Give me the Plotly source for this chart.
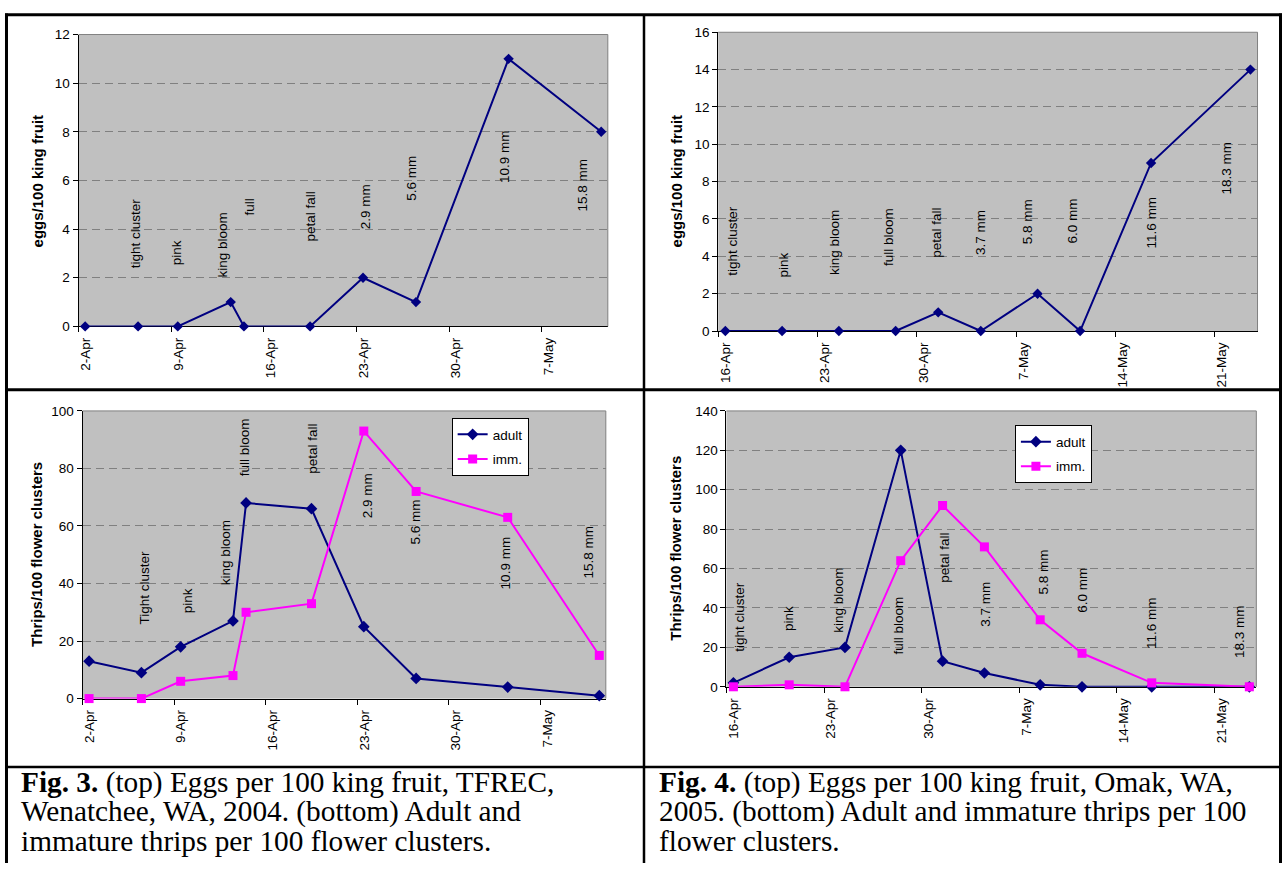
import plotly.graph_objects as go

W, H = 1282, 871

# ---------------- Fig. 3 (TFREC, Wenatchee, 2004) ----------------
f3_dates = ["2004-04-02", "2004-04-06", "2004-04-09", "2004-04-13", "2004-04-14",
            "2004-04-19", "2004-04-23", "2004-04-27", "2004-05-04", "2004-05-11"]
f3_eggs = [0, 0, 0, 1, 0, 0, 2, 1, 11, 8]
f3_adult = [13, 9, 18, 27, 68, 66, 25, 7, 4, 1]
f3_imm = [0, 0, 6, 8, 30, 33, 93, 72, 63, 15]

f3_top_labels = ["tight cluster", "pink", "king bloom", "full", "petal fall",
                 "2.9 mm", "5.6 mm", "10.9 mm", "15.8 mm"]
f3_top_label_x = ["2004-04-06 08:00", "2004-04-09 09:00", "2004-04-12 21:30",
                  "2004-04-14 22:00", "2004-04-19 13:00", "2004-04-23 17:00",
                  "2004-04-27 02:30", "2004-05-04 05:00", "2004-05-10 02:30"]
f3_top_label_y = [2.30, 2.42, 1.94, 4.48, 3.39, 3.92, 5.09, 5.82, 4.65]

f3_bot_labels = ["Tight cluster", "pink", "king bloom", "full bloom", "petal fall",
                 "2.9 mm", "5.6 mm", "10.9 mm", "15.8 mm"]
f3_bot_label_x = ["2004-04-06 17:20", "2004-04-09 23:45", "2004-04-12 22:50",
                  "2004-04-14 10:50", "2004-04-19 14:00", "2004-04-23 18:40",
                  "2004-04-27 10:00", "2004-05-04 08:40", "2004-05-10 16:20"]
f3_bot_label_y = [25.2, 28.8, 38.8, 76.7, 77.3, 62.0, 52.7, 37.4, 41.1]

# ---------------- Fig. 4 (Omak, 2005) ----------------
f4_dates = ["2005-04-16", "2005-04-20", "2005-04-24", "2005-04-28", "2005-05-01",
            "2005-05-04", "2005-05-08", "2005-05-11", "2005-05-16", "2005-05-23"]
f4_eggs = [0, 0, 0, 0, 1, 0, 2, 0, 9, 14]
f4_adult = [2, 15, 20, 120, 13, 7, 1, 0, 0, 0]
f4_imm = [0, 1, 0, 64, 92, 71, 34, 17, 2, 0]

f4_labels = ["tight cluster", "pink", "king bloom", "full bloom", "petal fall",
             "3.7 mm", "5.8 mm", "6.0 mm", "11.6 mm", "18.3 mm"]
f4_top_label_x = ["2005-04-17 00:15", "2005-04-20 14:40", "2005-04-24 04:20",
                  "2005-04-28 00:00", "2005-05-01 08:40", "2005-05-04 10:30",
                  "2005-05-07 18:00", "2005-05-10 22:20", "2005-05-16 13:00",
                  "2005-05-21 19:10"]
f4_top_label_y = [2.83, 2.77, 2.88, 3.35, 3.83, 3.98, 4.56, 4.56, 4.30, 7.19]
f4_bot_label_x = ["2005-04-16 23:10", "2005-04-20 11:00", "2005-04-24 01:30",
                  "2005-04-28 08:40", "2005-05-01 14:00", "2005-05-04 14:30",
                  "2005-05-08 16:50", "2005-05-11 13:00", "2005-05-16 11:15",
                  "2005-05-22 18:15"]
f4_bot_label_y = [16.7, 27.4, 26.6, 15.3, 51.6, 29.6, 46.1, 36.6, 18.3, 13.3]

egg_title = "eggs/100 king fruit"
thrips_title = "Thrips/100 flower clusters"

cap3 = ["<b>Fig. 3.</b> (top) Eggs per 100 king fruit, TFREC,",
        "Wenatchee, WA, 2004. (bottom) Adult and",
        "immature thrips per 100 flower clusters."]
cap4 = ["<b>Fig. 4.</b> (top) Eggs per 100 king fruit, Omak, WA,",
        "2005. (bottom) Adult and immature thrips per 100",
        "flower clusters."]

NAVY = "#000080"
MAGENTA = "#FF00FF"
SANS = "Liberation Sans, Arial, sans-serif"
SERIF = "Liberation Serif, Times New Roman, serif"


def noon(ds):
    # Excel date axis plots points between dates (middle of the day)
    return [d + " 12:00" for d in ds]


def px(x):
    return x / W


def py(y):
    return 1 - y / H


fig = go.Figure()

fig.add_trace(go.Scatter(x=noon(f3_dates), y=f3_eggs, mode="lines+markers",
                         line=dict(color=NAVY, width=2),
                         marker=dict(symbol="diamond", size=8, color=NAVY),
                         xaxis="x", yaxis="y", showlegend=False, cliponaxis=False))
fig.add_trace(go.Scatter(x=noon(f4_dates), y=f4_eggs, mode="lines+markers",
                         line=dict(color=NAVY, width=2),
                         marker=dict(symbol="diamond", size=8, color=NAVY),
                         xaxis="x2", yaxis="y2", showlegend=False, cliponaxis=False))
fig.add_trace(go.Scatter(x=noon(f3_dates), y=f3_adult, mode="lines+markers", name="adult",
                         line=dict(color=NAVY, width=2),
                         marker=dict(symbol="diamond", size=9, color=NAVY),
                         xaxis="x3", yaxis="y3", legend="legend", legendgroup="a3",
                         cliponaxis=False))
fig.add_trace(go.Scatter(x=noon(f3_dates), y=f3_imm, mode="lines+markers", name="imm.",
                         line=dict(color=MAGENTA, width=2),
                         marker=dict(symbol="square", size=9, color=MAGENTA),
                         xaxis="x3", yaxis="y3", legend="legend", legendgroup="i3",
                         cliponaxis=False))
fig.add_trace(go.Scatter(x=noon(f4_dates), y=f4_adult, mode="lines+markers", name="adult",
                         line=dict(color=NAVY, width=2),
                         marker=dict(symbol="diamond", size=9, color=NAVY),
                         xaxis="x4", yaxis="y4", legend="legend2", legendgroup="a4",
                         cliponaxis=False))
fig.add_trace(go.Scatter(x=noon(f4_dates), y=f4_imm, mode="lines+markers", name="imm.",
                         line=dict(color=MAGENTA, width=2),
                         marker=dict(symbol="square", size=9, color=MAGENTA),
                         xaxis="x4", yaxis="y4", legend="legend2", legendgroup="i4",
                         cliponaxis=False))

panels = {
    "1": (77.6, 607.3, 28.0, 325.0),
    "2": (717.8, 1257.5, 25.7, 329.7),
    "3": (81.6, 605.3, 411.0, 703.7),
    "4": (726.0, 1256.3, 411.0, 691.7),
}
xranges = {"1": ["2004-04-02", "2004-05-12"], "2": ["2005-04-16", "2005-05-24"],
           "3": ["2004-04-02", "2004-05-12"], "4": ["2005-04-16", "2005-05-24"]}
ndays = {"1": 40, "2": 38, "3": 40, "4": 38}
yranges = {"1": [0, 12], "2": [0, 16], "3": [0, 100], "4": [0, 140]}
ydticks = {"1": 2, "2": 2, "3": 20, "4": 20}

layout_axes = {}
for k, (x0, x1, y0, y1) in panels.items():
    xn = "xaxis" if k == "1" else "xaxis" + k
    yn = "yaxis" if k == "1" else "yaxis" + k
    anchor_y = "y" if k == "1" else "y" + k
    anchor_x = "x" if k == "1" else "x" + k
    half_day_px = int(round((x1 - x0) / ndays[k] / 2.0))
    layout_axes[xn] = dict(
        domain=[px(x0), px(x1)], anchor=anchor_y, type="date",
        range=xranges[k], tick0=xranges[k][0], dtick=7 * 86400000,
        tickformat="%-d-%b", tickangle=-90, ticklabelshift=half_day_px,
        ticks="outside", ticklen=5, tickcolor="black", tickwidth=1,
        showline=True, linecolor="black", linewidth=1,
        showgrid=False, zeroline=False, layer="below traces",
        tickfont=dict(family=SANS, size=13.5, color="black"), fixedrange=True)
    layout_axes[yn] = dict(
        domain=[py(y1), py(y0)], anchor=anchor_x,
        range=yranges[k], dtick=ydticks[k], tick0=0,
        ticks="outside", ticklen=5, tickcolor="black", tickwidth=1,
        showline=True, linecolor="black", linewidth=1,
        showgrid=True, gridcolor="#808080", gridwidth=1, griddash="8px,5px",
        zeroline=False, layer="below traces",
        tickfont=dict(family=SANS, size=13.5, color="black"), fixedrange=True)

annotations = []


def add_labels(texts, xs, ys, xref, yref):
    for t, x, y in zip(texts, xs, ys):
        annotations.append(dict(text=t, x=x, y=y, xref=xref, yref=yref,
                                textangle=-90, xanchor="center", yanchor="bottom",
                                showarrow=False,
                                font=dict(family=SANS, size=13.5, color="black")))


add_labels(f3_top_labels, f3_top_label_x, f3_top_label_y, "x", "y")
add_labels(f4_labels, f4_top_label_x, f4_top_label_y, "x2", "y2")
add_labels(f3_bot_labels, f3_bot_label_x, f3_bot_label_y, "x3", "y3")
add_labels(f4_labels, f4_bot_label_x, f4_bot_label_y, "x4", "y4")

for t, x, y in [(egg_title, 36, 176.5), (egg_title, 676, 177),
                (thrips_title, 35.5, 557), (thrips_title, 674.8, 551)]:
    annotations.append(dict(text="<b>" + t + "</b>", x=px(x), y=py(y), xref="paper", yref="paper",
                            textangle=-90, xanchor="center", yanchor="middle", showarrow=False,
                            font=dict(family=SANS, size=15, color="black")))

for lines, x in [(cap3, 18), (cap4, 657)]:
    for i, line in enumerate(lines):
        annotations.append(dict(text=line, x=px(x), y=py(789 + 30 * i), xref="paper", yref="paper",
                                xanchor="left", yanchor="middle", showarrow=False,
                                font=dict(family=SERIF, size=29.3, color="black")))

shapes = []
for k in panels:
    xr = "x domain" if k == "1" else "x%s domain" % k
    yr = "y domain" if k == "1" else "y%s domain" % k
    shapes.append(dict(type="line", xref=xr, yref=yr, x0=0, x1=1, y0=1, y1=1,
                       line=dict(color="#808080", width=1), layer="above"))
    shapes.append(dict(type="line", xref=xr, yref=yr, x0=1, x1=1, y0=0, y1=1,
                       line=dict(color="#808080", width=1), layer="above"))

frame = [
    (4.0, 8.0, 1282.0, 8.0, 3),
    (5.5, 6.5, 5.5, 871.0, 3),
    (1280.5, 6.5, 1280.5, 871.0, 3),
    (643.5, 8.0, 643.5, 871.0, 2.5),
    (5.5, 389.5, 1280.5, 389.5, 3),
    (5.5, 773.3, 1280.5, 773.3, 2.5),
]
for x0, y0, x1, y1, w in frame:
    shapes.append(dict(type="line", xref="paper", yref="paper",
                       x0=px(x0), y0=py(y0), x1=px(x1), y1=py(y1),
                       line=dict(color="black", width=w), layer="above"))

legend_style = dict(bgcolor="white", bordercolor="black", borderwidth=1,
                    font=dict(family=SANS, size=13.5, color="black"),
                    traceorder="grouped", tracegroupgap=4, itemwidth=30,
                    xanchor="left", yanchor="top")

fig.update_layout(
    width=W, height=H, margin=dict(l=0, r=0, t=0, b=0),
    paper_bgcolor="white", plot_bgcolor="#C0C0C0",
    annotations=annotations, shapes=shapes,
    legend=dict(x=px(451), y=py(418.3), **legend_style),
    legend2=dict(x=px(1014.7), y=py(425.7), **legend_style),
    **layout_axes,
)

fig.write_html("out.html",
               config={"displayModeBar": False, "staticPlot": True},
               post_script="document.body.style.margin='0px';"
                           "document.body.style.overflow='hidden';")
